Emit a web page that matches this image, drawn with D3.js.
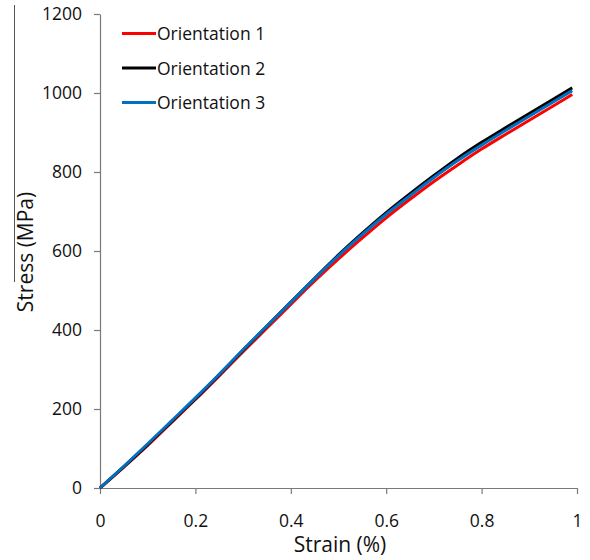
<!DOCTYPE html>
<html>
<head>
<meta charset="utf-8">
<script src="https://cdn.jsdelivr.net/npm/d3@7/dist/d3.min.js"></script>
<style>
  html, body { margin: 0; padding: 0; background: #fff; }
  svg { display: block; font-family: "Open Sans", sans-serif; }
</style>
</head>
<body>
<svg id="chart" width="590" height="560"></svg>
<script>
// ---- data ----
const strain = [0, 0.05, 0.1, 0.15, 0.2, 0.25, 0.3, 0.35, 0.4, 0.45, 0.5, 0.55, 0.6, 0.65, 0.7, 0.75, 0.8, 0.85, 0.9, 0.95, 0.99];
const orientation1 = [0, 53, 108, 166, 224, 284, 345, 405, 465, 524, 580, 633, 684, 731, 776, 818, 858, 895, 931, 967, 996];
const orientation2 = [0, 54, 110, 168, 226, 287, 349, 410, 471, 531, 590, 645, 697, 745, 791, 835, 875, 912, 948, 984, 1013];
const orientation3 = [0, 55, 112, 170, 228, 288, 350, 410, 470, 530, 588, 642, 693, 740, 786, 829, 868, 905, 941, 977, 1006];
const seriesNames = ["Orientation 1", "Orientation 2", "Orientation 3"];
const seriesColors = ["#ff0000", "#000000", "#0070c0"];
const xTicks = [0, 0.2, 0.4, 0.6, 0.8, 1];
const yTicks = [0, 200, 400, 600, 800, 1000, 1200];
const xTitle = "Strain (%)";
const yTitle = "Stress (MPa)";

const seriesValues = [orientation1, orientation2, orientation3];
const series = seriesNames.map((name, i) => ({
  name, color: seriesColors[i],
  points: strain.map((s, j) => ({ x: s, y: seriesValues[i][j] }))
}));

const svg = d3.select("#chart");
const margin = { left: 100, right: 13, top: 14, bottom: 72 };
const W = 590, H = 560;

const x = d3.scaleLinear().domain([0, 1]).range([margin.left, W - margin.right]);
const y = d3.scaleLinear().domain([0, 1200]).range([H - margin.bottom, margin.top]);

const axisColor = "#7a7a7a";
const textColor = "#111";

// stray vertical rule at far left seen in the reference
svg.append("line")
  .attr("x1", 14.5).attr("x2", 14.5).attr("y1", 5).attr("y2", 282)
  .attr("stroke", "#555").attr("stroke-width", 1);

// axes
const xAxis = svg.append("g")
  .attr("transform", `translate(0,${y(0)})`)
  .call(d3.axisBottom(x).tickValues(xTicks).tickFormat(d3.format("~g")).tickSize(6).tickPadding(21).tickSizeOuter(0));
const yAxis = svg.append("g")
  .attr("transform", `translate(${x(0)},0)`)
  .call(d3.axisLeft(y).tickValues(yTicks).tickFormat(d3.format("d")).tickSize(6).tickPadding(12).tickSizeOuter(0));

[xAxis, yAxis].forEach(g => {
  g.select(".domain").attr("stroke", axisColor).attr("stroke-width", 1.2);
  g.selectAll(".tick line").attr("stroke", axisColor).attr("stroke-width", 1.2);
  g.selectAll(".tick text").attr("fill", textColor).style("font-size", "17.5px").style("font-family", "'Open Sans', sans-serif");
});

// lines
const line = d3.line().x(d => x(d.x)).y(d => y(d.y)).curve(d3.curveMonotoneX);
svg.append("g").selectAll("path")
  .data(series)
  .join("path")
  .attr("d", d => line(d.points))
  .attr("fill", "none")
  .attr("stroke", d => d.color)
  .attr("stroke-width", 3)
  .attr("stroke-linejoin", "round");

// axis titles
svg.append("text")
  .attr("x", 340).attr("y", 552)
  .attr("text-anchor", "middle")
  .attr("fill", textColor)
  .style("font-size", "21px")
  .text(xTitle);
svg.append("text")
  .attr("transform", "translate(33,252) rotate(-90)")
  .attr("text-anchor", "middle")
  .attr("fill", textColor)
  .style("font-size", "21px")
  .text(yTitle);

// legend
const legend = svg.append("g");
series.forEach((s, i) => {
  const ly = 33.5 + i * 34.5;
  legend.append("line")
    .attr("x1", 122).attr("x2", 156).attr("y1", ly).attr("y2", ly)
    .attr("stroke", s.color).attr("stroke-width", 3);
  legend.append("text")
    .attr("x", 157).attr("y", ly + 6.5)
    .attr("fill", textColor)
    .style("font-size", "17.5px")
    .text(s.name);
});
</script>
</body>
</html>
